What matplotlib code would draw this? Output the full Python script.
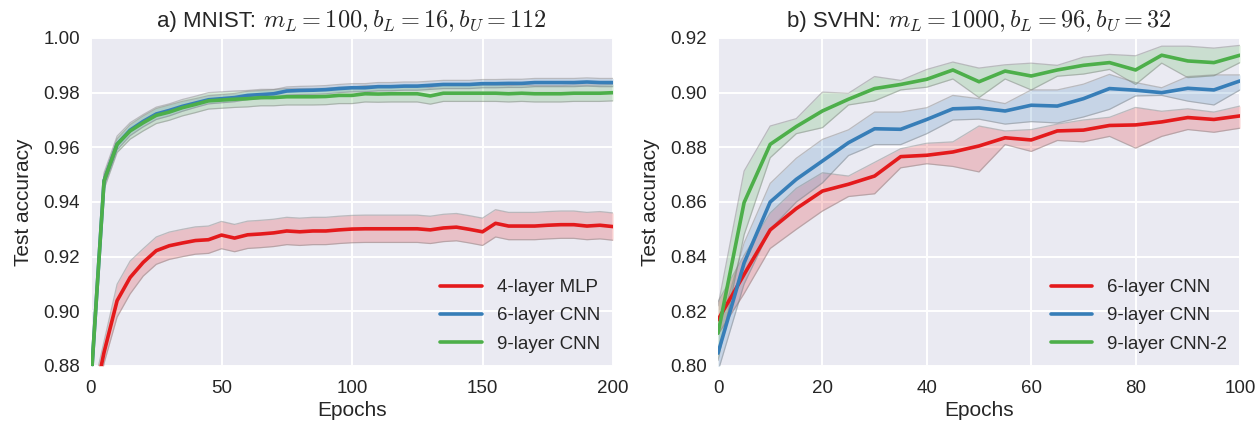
import numpy as np
import matplotlib
matplotlib.use("Agg")
import matplotlib.pyplot as plt

# ---------------- data ----------------
# MNIST (epochs every 5)
mnist_epochs = list(range(0, 201, 5))
mnist_mlp = [0.862, 0.885, 0.9039, 0.9124, 0.9179, 0.9222, 0.9240, 0.9250, 0.9259, 0.9262,
             0.9279, 0.9268, 0.9280, 0.9283, 0.9287, 0.9294, 0.9291, 0.9294, 0.9294, 0.9298,
             0.9301, 0.9302, 0.9302, 0.9302, 0.9302, 0.9302, 0.9298, 0.9305, 0.9308, 0.9300,
             0.9291, 0.9322, 0.9312, 0.9312, 0.9312, 0.9315, 0.9317, 0.9317, 0.9312, 0.9315,
             0.9310]
mnist_mlp_err = [0.006, 0.004, 0.006, 0.006, 0.005, 0.005, 0.005, 0.005, 0.005, 0.005,
                 0.005, 0.005, 0.005, 0.005, 0.005, 0.005, 0.005, 0.005, 0.005, 0.005,
                 0.005, 0.005, 0.005, 0.005, 0.005, 0.005, 0.005, 0.005, 0.005, 0.005,
                 0.005, 0.005, 0.005, 0.005, 0.005, 0.005, 0.005, 0.005, 0.005, 0.005,
                 0.005]
mnist_cnn6 = [0.874, 0.9478, 0.9611, 0.9663, 0.9695, 0.9722, 0.9735, 0.9750, 0.9762, 0.9774,
              0.9778, 0.9782, 0.9790, 0.9793, 0.9796, 0.9806, 0.9808, 0.9809, 0.9811, 0.9815,
              0.9818, 0.9818, 0.9822, 0.9822, 0.9824, 0.9824, 0.9827, 0.9830, 0.9830, 0.9830,
              0.9833, 0.9833, 0.9834, 0.9834, 0.9837, 0.9837, 0.9837, 0.9837, 0.9839, 0.9837,
              0.9837]
mnist_cnn6_err = [0.004, 0.002, 0.002, 0.002, 0.002, 0.002, 0.002, 0.0018, 0.0016, 0.0015,
                  0.0015, 0.0015, 0.0015, 0.0015, 0.0015, 0.0015, 0.0015, 0.0015, 0.0015, 0.0015,
                  0.0015, 0.0015, 0.0015, 0.0015, 0.0015, 0.0015, 0.0015, 0.0015, 0.0015, 0.0015,
                  0.0015, 0.0015, 0.0015, 0.0015, 0.0015, 0.0015, 0.0015, 0.0015, 0.0015, 0.0015,
                  0.0015]
mnist_cnn9 = [0.874, 0.9477, 0.9611, 0.9660, 0.9690, 0.9717, 0.9729, 0.9745, 0.9757, 0.9770,
              0.9773, 0.9776, 0.9778, 0.9782, 0.9782, 0.9785, 0.9785, 0.9785, 0.9786, 0.9790,
              0.9790, 0.9796, 0.9795, 0.9796, 0.9796, 0.9796, 0.9788, 0.9798, 0.9798, 0.9798,
              0.9798, 0.9798, 0.9796, 0.9798, 0.9796, 0.9796, 0.9796, 0.9798, 0.9798, 0.9798,
              0.9800]
mnist_cnn9_err = [0.005, 0.003, 0.003, 0.003, 0.003, 0.003, 0.003, 0.003, 0.003, 0.003,
                  0.003, 0.003, 0.003, 0.003, 0.003, 0.003, 0.003, 0.003, 0.003, 0.003,
                  0.003, 0.003, 0.003, 0.003, 0.003, 0.003, 0.003, 0.003, 0.003, 0.003,
                  0.003, 0.003, 0.003, 0.003, 0.003, 0.003, 0.003, 0.003, 0.003, 0.003,
                  0.003]
mnist_labels = ["4-layer MLP", "6-layer CNN", "9-layer CNN"]

# SVHN (epochs every 5)
svhn_epochs = list(range(0, 101, 5))
svhn_cnn6 = [0.8169, 0.8335, 0.8498, 0.8576, 0.8640, 0.8665, 0.8695, 0.8766, 0.8771, 0.8783,
             0.8805, 0.8835, 0.8827, 0.8860, 0.8863, 0.8880, 0.8882, 0.8893, 0.8909, 0.8902,
             0.8915]
svhn_cnn6_lo = [0.8115, 0.8265, 0.8430, 0.8500, 0.8567, 0.8620, 0.8630, 0.8725, 0.8740, 0.8730,
                0.8710, 0.8810, 0.8785, 0.8825, 0.8820, 0.8840, 0.8797, 0.8840, 0.8865, 0.8855,
                0.8870]
svhn_cnn6_hi = [0.8235, 0.8405, 0.8560, 0.8650, 0.8707, 0.8695, 0.8745, 0.8795, 0.8815, 0.8820,
                0.8878, 0.8860, 0.8865, 0.8885, 0.8900, 0.8910, 0.8946, 0.8932, 0.8941, 0.8929,
                0.8951]
svhn_cnn9 = [0.8047, 0.8377, 0.8600, 0.8683, 0.8750, 0.8817, 0.8868, 0.8866, 0.8902, 0.8941,
             0.8944, 0.8933, 0.8954, 0.8951, 0.8978, 0.9015, 0.9009, 0.9000, 0.9016, 0.9010,
             0.9043]
svhn_cnn9_lo = [0.7980, 0.8300, 0.8500, 0.8600, 0.8670, 0.8770, 0.8810, 0.8810, 0.8850, 0.8900,
                0.8903, 0.8885, 0.8894, 0.8889, 0.8911, 0.8939, 0.8988, 0.8990, 0.8969, 0.8955,
                0.9010]
svhn_cnn9_hi = [0.8120, 0.8450, 0.8668, 0.8760, 0.8829, 0.8864, 0.8929, 0.8929, 0.8945, 0.8990,
                0.8978, 0.8960, 0.9010, 0.9010, 0.9031, 0.9067, 0.9037, 0.9018, 0.9059, 0.9065,
                0.9065]
svhn_cnn92 = [0.8120, 0.8598, 0.8811, 0.8876, 0.8933, 0.8976, 0.9015, 0.9030, 0.9049, 0.9083,
              0.9040, 0.9079, 0.9061, 0.9083, 0.9100, 0.9110, 0.9083, 0.9137, 0.9116, 0.9110,
              0.9137]
svhn_cnn92_lo = [0.8020, 0.8480, 0.8762, 0.8850, 0.8872, 0.8955, 0.8970, 0.9010, 0.9020, 0.9050,
                 0.8982, 0.9050, 0.9010, 0.9060, 0.9068, 0.9085, 0.9030, 0.9108, 0.9055, 0.9062,
                 0.9110]
svhn_cnn92_hi = [0.8220, 0.8713, 0.8878, 0.8905, 0.9002, 0.8998, 0.9059, 0.9045, 0.9085, 0.9112,
                 0.9090, 0.9102, 0.9108, 0.9100, 0.9130, 0.9140, 0.9135, 0.9170, 0.9170, 0.9163,
                 0.9173]
svhn_labels = ["6-layer CNN", "9-layer CNN", "9-layer CNN-2"]

title_text = ["a) MNIST:", "b) SVHN:"]
title_math = [r"$m_L = 100, b_L = 16, b_U = 112$", r"$m_L = 1000, b_L = 96, b_U = 32$"]

colors = ["#e41a1c", "#377eb8", "#4daf4a"]

# ---------------- style ----------------
plt.style.use("seaborn-v0_8-darkgrid")
plt.rcParams["font.family"] = ["Liberation Sans", "DejaVu Sans"]
plt.rcParams["mathtext.fontset"] = "cm"
plt.rcParams["axes.facecolor"] = "#EAEAF2"
plt.rcParams["grid.color"] = "white"
plt.rcParams["grid.linewidth"] = 1.4

W, H = 1259, 424
fig = plt.figure(figsize=(W / 100, H / 100), dpi=100)
ax1 = fig.add_axes([91 / W, 58 / H, 522 / W, 328 / H])
ax2 = fig.add_axes([718 / W, 58 / H, 522 / W, 328 / H])


def band(ax, x, lo, hi, c):
    ax.fill_between(x, lo, hi, color=c, alpha=0.2, linewidth=0)
    ax.plot(x, lo, color="gray", alpha=0.45, lw=0.9)
    ax.plot(x, hi, color="gray", alpha=0.45, lw=0.9)


# MNIST
mx = np.array(mnist_epochs)
for m, e, c in zip([mnist_mlp, mnist_cnn6, mnist_cnn9],
                   [mnist_mlp_err, mnist_cnn6_err, mnist_cnn9_err], colors):
    m = np.array(m); e = np.array(e)
    band(ax1, mx, m - e, m + e, c)
lines1 = []
for m, c, lab in zip([mnist_mlp, mnist_cnn6, mnist_cnn9], colors, mnist_labels):
    l, = ax1.plot(mx, m, color=c, lw=2.6, label=lab)
    lines1.append(l)

# SVHN
sx = np.array(svhn_epochs)
for lo, hi, c in zip([svhn_cnn6_lo, svhn_cnn9_lo, svhn_cnn92_lo],
                     [svhn_cnn6_hi, svhn_cnn9_hi, svhn_cnn92_hi], colors):
    band(ax2, sx, lo, hi, c)
lines2 = []
for m, c, lab in zip([svhn_cnn6, svhn_cnn9, svhn_cnn92], colors, svhn_labels):
    l, = ax2.plot(sx, m, color=c, lw=2.6, label=lab)
    lines2.append(l)

ax1.set_xlim(0, 200)
ax1.set_ylim(0.88, 1.00)
ax1.set_xticks([0, 50, 100, 150, 200])
ax1.set_yticks(np.arange(0.88, 1.001, 0.02))
ax1.set_yticklabels(["%.2f" % v for v in np.arange(0.88, 1.001, 0.02)])

ax2.set_xlim(0, 100)
ax2.set_ylim(0.80, 0.92)
ax2.set_xticks([0, 20, 40, 60, 80, 100])
ax2.set_yticks(np.arange(0.80, 0.921, 0.02))
ax2.set_yticklabels(["%.2f" % v for v in np.arange(0.80, 0.921, 0.02)])

for ax in (ax1, ax2):
    ax.tick_params(labelsize=13.5, length=0, labelcolor="#262626")
    ax.tick_params(axis="x", pad=10)
    ax.tick_params(axis="y", pad=8)
    ax.set_xlabel("Epochs", fontsize=15, color="#262626", labelpad=3)
    ax.set_ylabel("Test accuracy", fontsize=15, color="#262626", labelpad=7)
    for s in ax.spines.values():
        s.set_visible(False)
    ax.grid(True, color="white", lw=1.4)

ax1.legend(handles=lines1, loc="lower right", fontsize=13.5, frameon=False,
           handlelength=2.2, borderaxespad=0.3, labelspacing=0.6)
ax2.legend(handles=lines2, loc="lower right", fontsize=13.5, frameon=False,
           handlelength=2.2, borderaxespad=0.3, labelspacing=0.6)

# titles: plain text part + larger math part, centred together over each axes
renderer = fig.canvas.get_renderer()
base_y = (H - 27) / H
for ax, tt, tm in zip((ax1, ax2), title_text, title_math):
    t1 = fig.text(0, base_y, tt, fontsize=16, color="#262626", va="baseline")
    t2 = fig.text(0, base_y, tm, fontsize=17.5, color="#262626", va="baseline")
    w1 = t1.get_window_extent(renderer).width
    w2 = t2.get_window_extent(renderer).width
    gap = 7
    bb = ax.get_position()
    cx = (bb.x0 + bb.x1) / 2 * W
    start = cx - (w1 + gap + w2) / 2
    t1.set_x(start / W)
    t2.set_x((start + w1 + gap) / W)

fig.savefig("out.png", dpi=100)
